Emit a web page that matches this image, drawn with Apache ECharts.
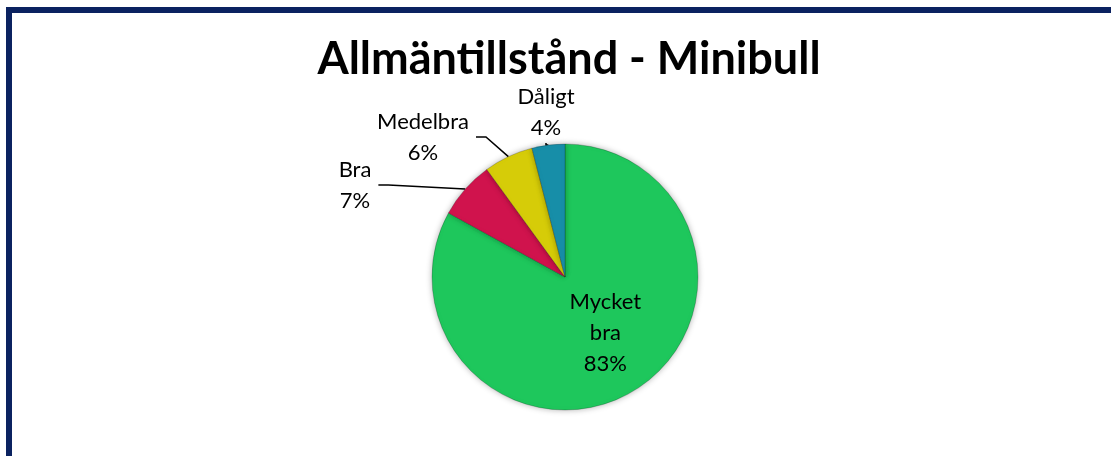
<!DOCTYPE html>
<html>
<head>
<meta charset="utf-8">
<script src="https://cdn.jsdelivr.net/npm/echarts@6/dist/echarts.min.js"></script>
<style>
  html, body { margin: 0; padding: 0; background: #fff; }
  #chart { width: 1111px; height: 456px; }
</style>
</head>
<body>
<div id="chart"></div>
<script>
// data
var categories = ['Mycket bra', 'Bra', 'Medelbra', 'Dåligt'];
var shares = [83, 7, 6, 4];
var colors = ['#1ec75c', '#d0134d', '#d6cc08', '#178ea8'];
var displayNames = ['Mycket\nbra', 'Bra', 'Medelbra', 'Dåligt'];

// where the outside labels sit (label centres)
var labelSpots = [null, [355, 185], [423, 137], [546, 112]];

var myChart = echarts.init(document.getElementById('chart'));

var data = categories.map(function (name, i) {
    var item = {
        name: name,
        value: shares[i],
        itemStyle: { color: colors[i] }
    };
    if (i === 0) {
        item.label = { position: 'inside', offset: [5, -4], padding: 0 };
        item.labelLine = { show: false };
    }
    return item;
});

var option = {
    backgroundColor: '#ffffff',
    animation: false,
    title: {
        text: 'Allmäntillstånd - Minibull',
        left: 564,
        top: 32,
        textAlign: 'center',
        textStyle: {
            fontFamily: 'Lato',
            fontWeight: 'bold',
            fontSize: 45,
            color: '#000'
        }
    },
    graphic: [
        {
            type: 'rect',
            shape: { x: 9, y: 10, width: 1300, height: 600 },
            style: { fill: 'none', stroke: '#0b2260', lineWidth: 6 }
        }
    ],
    series: [
        {
            type: 'pie',
            center: [565, 277],
            radius: 133,
            startAngle: 90,
            clockwise: true,
            avoidLabelOverlap: false,
            data: data,
            itemStyle: {
                borderColor: 'rgba(0,0,0,0.2)',
                borderWidth: 1,
                shadowBlur: 6,
                shadowColor: 'rgba(0,0,0,0.3)'
            },
            label: {
                show: true,
                position: 'outside',
                fontFamily: 'Lato',
                fontSize: 22,
                lineHeight: 31,
                color: '#000',
                padding: [0, 7],
                formatter: function (p) {
                    return displayNames[p.dataIndex] + '\n' + p.value + '%';
                }
            },
            labelLine: {
                show: true,
                length: 10,
                length2: 10,
                smooth: false,
                lineStyle: { color: '#000', width: 1.5 }
            },
            labelLayout: function (p) {
                var s = labelSpots[p.dataIndex];
                if (!s) return {};
                return { x: s[0], y: s[1], align: 'center', verticalAlign: 'middle' };
            }
        }
    ]
};

myChart.setOption(option);
</script>
</body>
</html>
